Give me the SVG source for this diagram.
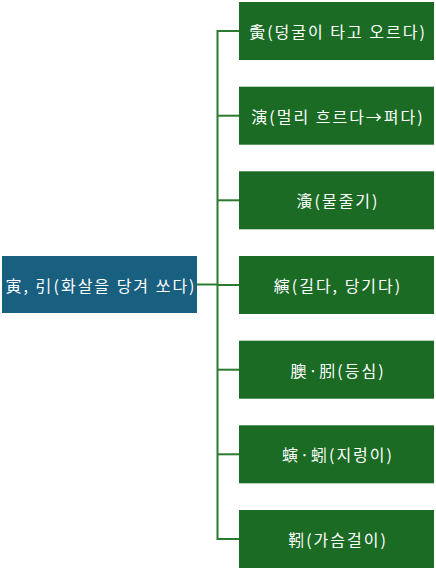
<svg xmlns="http://www.w3.org/2000/svg" width="436" height="570" viewBox="0 0 436 570">
<style>
.root rect{fill:#195f7f}
.leaf rect{fill:#1b6b25}
text{font-family:"Noto Sans CJK KR","Noto Sans",sans-serif;font-size:16px;letter-spacing:2px;fill:#ffffff;text-anchor:middle;dominant-baseline:central}
.conn path{fill:none;stroke:#2a7a30;stroke-width:2}
</style>
<rect width="436" height="570" fill="#ffffff"/>
<g class="conn">
<path d="M197,284.5 H217.5"/>
<path d="M239,31 H217.5 V539 H239"/>
<path d="M217.5,115.7 H239"/>
<path d="M217.5,200.3 H239"/>
<path d="M217.5,285 H239"/>
<path d="M217.5,369.7 H239"/>
<path d="M217.5,454.3 H239"/>
</g>
<g id="root" class="root"><rect x="2" y="256" width="195" height="57"/><text x="101" y="284.5">寅, 引(화살을 당겨 쏘다)</text></g>
<g id="n1" class="leaf"><rect x="239" y="2" width="195" height="58"/><text x="338" y="31">夤(덩굴이 타고 오르다)</text></g>
<g id="n2" class="leaf"><rect x="239" y="86.7" width="195" height="58"/><text x="338" y="115.7">演(멀리 흐르다→펴다)</text></g>
<g id="n3" class="leaf"><rect x="239" y="171.3" width="195" height="58"/><text x="338" y="200.3">濥(물줄기)</text></g>
<g id="n4" class="leaf"><rect x="239" y="256" width="195" height="58"/><text x="338" y="285">縯(길다, 당기다)</text></g>
<g id="n5" class="leaf"><rect x="239" y="340.7" width="195" height="58"/><text x="338" y="369.7">䐿·䏖(등심)</text></g>
<g id="n6" class="leaf"><rect x="239" y="425.3" width="195" height="58"/><text x="338" y="454.3">螾·蚓(지렁이)</text></g>
<g id="n7" class="leaf"><rect x="239" y="510" width="195" height="58"/><text x="338" y="539">靷(가슴걸이)</text></g>
</svg>
